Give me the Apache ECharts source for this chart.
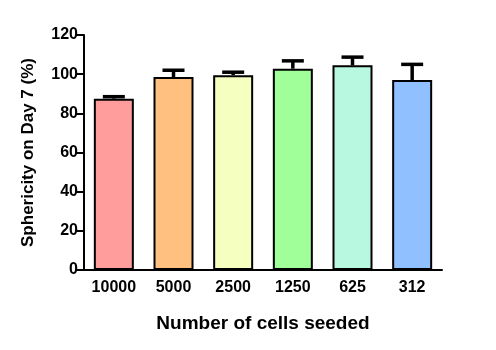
<!DOCTYPE html>
<html>
<head>
<meta charset="utf-8">
<script src="https://cdn.jsdelivr.net/npm/echarts@6/dist/echarts.min.js"></script>
<style>
  html, body { margin: 0; padding: 0; background: #fff; }
  #chart { width: 496px; height: 350px; }
</style>
</head>
<body>
<div id="chart"></div>
<script>
// cells seeded per well and sphericity on day 7
const categories = ['10000', '5000', '2500', '1250', '625', '312']
const means = [87.5, 98.5, 99.5, 102.8, 104.5, 97]
const errors = [1, 3.5, 1.5, 4, 4.2, 8]
const colors = ['#FF9C9C', '#FFC080', '#F4FFC0', '#A0FF98', '#B8F8E0', '#90C0FF']

const font = 'Liberation Sans, Arial, sans-serif'

let myChart = echarts.init(document.getElementById('chart'))

let option = {
  animation: false,
  grid: { left: 84, right: 54, top: 35, bottom: 80 },
  xAxis: {
    type: 'category',
    data: categories,
    name: 'Number of cells seeded',
    nameLocation: 'middle',
    nameGap: 44,
    nameTextStyle: { fontFamily: font, fontWeight: 'bold', fontSize: 19, color: '#000' },
    axisLine: { lineStyle: { color: '#000', width: 2 } },
    axisTick: { alignWithLabel: true, length: 6, lineStyle: { color: '#000', width: 2 } },
    axisLabel: { fontFamily: font, fontWeight: 'bold', fontSize: 16, color: '#000', margin: 10 }
  },
  yAxis: {
    type: 'value',
    min: 0,
    max: 120,
    interval: 20,
    name: 'Sphericity on Day 7 (%)',
    nameLocation: 'middle',
    nameGap: 47,
    nameRotate: 90,
    nameTextStyle: { fontFamily: font, fontWeight: 'bold', fontSize: 17, color: '#000' },
    axisLine: { show: true, lineStyle: { color: '#000', width: 2 } },
    axisTick: { show: true, length: 7, lineStyle: { color: '#000', width: 2 } },
    axisLabel: { fontFamily: font, fontWeight: 'bold', fontSize: 16, color: '#000', margin: 6 },
    splitLine: { show: false }
  },
  series: [
    {
      type: 'bar',
      barWidth: 40,
      data: means.map((v, i) => ({
        value: v,
        itemStyle: { color: colors[i], borderColor: '#000', borderWidth: 2 }
      }))
    },
    {
      type: 'custom',
      z: 3,
      data: means.map((v, i) => [i, v, v + errors[i]]),
      renderItem (params, api) {
        let low = api.coord([api.value(0), api.value(1)])
        let high = api.coord([api.value(0), api.value(2)])
        let half = 11
        let style = { stroke: '#000', lineWidth: 3.5 }
        return {
          type: 'group',
          children: [
            { type: 'line', shape: { x1: low[0], y1: low[1], x2: high[0], y2: high[1] }, style },
            { type: 'line', shape: { x1: high[0] - half, y1: high[1], x2: high[0] + half, y2: high[1] }, style }
          ]
        }
      }
    }
  ]
}

myChart.setOption(option)
</script>
</body>
</html>
